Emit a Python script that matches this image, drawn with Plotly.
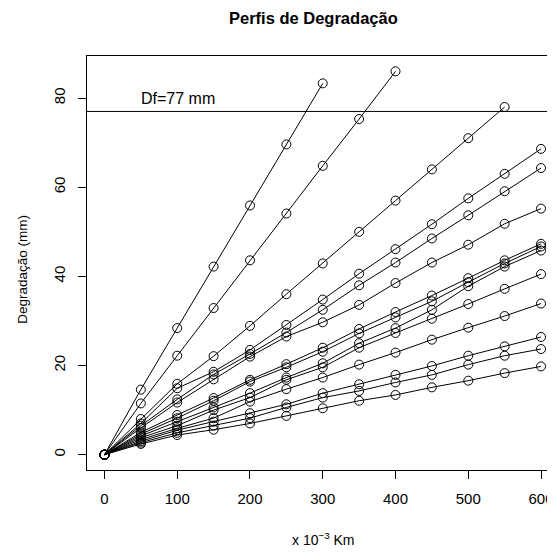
import plotly.graph_objects as go

x_km = [0, 50, 100, 150, 200, 250, 300, 350, 400, 450, 500, 550, 600]

s1 = [0, 14.6, 28.4, 42.2, 55.9, 69.6, 83.3]
s2 = [0, 11.5, 22.2, 32.9, 43.6, 54.1, 64.8, 75.3, 86.0]
s3 = [0, 8.0, 15.9, 22.1, 28.9, 36.0, 42.9, 50.0, 57.0, 64.0, 71.0, 78.0]
sA = [0, 7.0, 14.9, 18.6, 23.5, 29.1, 34.8, 40.6, 46.1, 51.7, 57.5, 63.0, 68.6]
sB = [0, 6.5, 12.4, 18.0, 22.6, 27.4, 32.5, 38.0, 43.1, 48.5, 53.7, 59.1, 64.3]
sC = [0, 6.0, 11.7, 16.9, 22.0, 26.5, 29.7, 33.6, 38.5, 43.1, 47.1, 51.8, 55.2]
sD = [0, 5.0, 8.9, 12.7, 16.8, 20.3, 24.0, 28.2, 32.0, 35.7, 39.6, 43.6, 47.3]
sE = [0, 4.6, 8.2, 12.1, 16.4, 19.6, 23.1, 27.2, 30.8, 34.4, 38.7, 42.9, 46.7]
sF = [0, 4.2, 7.4, 10.6, 13.8, 17.3, 20.5, 25.0, 28.4, 32.5, 37.8, 42.2, 45.8]
sG = [0, 3.8, 6.5, 10.0, 12.8, 16.8, 19.6, 24.0, 27.3, 30.5, 33.8, 37.2, 40.5]
sH = [0, 3.4, 5.9, 8.2, 11.9, 14.7, 17.3, 20.2, 22.9, 25.8, 28.5, 31.1, 33.9]
sI = [0, 3.0, 5.5, 7.4, 9.3, 11.3, 13.8, 15.8, 17.9, 19.9, 22.2, 24.3, 26.4]
sJ = [0, 2.7, 4.9, 6.5, 8.2, 10.6, 12.8, 14.3, 16.2, 17.9, 20.2, 22.2, 23.7]
sK = [0, 2.4, 4.4, 5.6, 7.0, 8.7, 10.4, 12.1, 13.4, 15.1, 16.6, 18.3, 19.8]

series = [s1, s2, s3, sA, sB, sC, sD, sE, sF, sG, sH, sI, sJ, sK]

df_value = 77
df_label = "Df=77 mm"
x_ticks = [0, 100, 200, 300, 400, 500, 600]
y_ticks = [0, 20, 40, 60, 80]

FONT = "Liberation Sans, Arial, sans-serif"

# page body adds an 8px offset; figure sized/margined to compensate
PL, PT, PW, PH = 87, 56, 468, 414   # plot area in page pixels


def px(xp):
    return (xp - PL) / PW


def py(yp):
    return (PT + PH - yp) / PH


fig = go.Figure()
for s in series:
    fig.add_trace(go.Scatter(
        x=x_km[:len(s)], y=s, mode="lines+markers",
        line=dict(color="black", width=1),
        marker=dict(symbol="circle-open", size=9, color="black", line=dict(width=1)),
        showlegend=False, cliponaxis=False,
    ))

fig.add_shape(type="line", xref="paper", x0=0, x1=1, yref="y", y0=df_value, y1=df_value,
              line=dict(color="black", width=1))
fig.add_annotation(x=101, y=80, xref="x", yref="y", text=df_label, showarrow=False,
                   xanchor="center", yanchor="middle",
                   font=dict(size=16, color="black", family=FONT))

fig.add_annotation(xref="paper", yref="paper", x=px(313), y=py(18),
                   xanchor="center", yanchor="middle",
                   text="<b>Perfis de Degradação</b>", showarrow=False,
                   font=dict(size=16.5, color="black", family=FONT))

fig.add_annotation(xref="paper", yref="paper", x=px(323.5), y=py(539),
                   xanchor="center", yanchor="middle",
                   text="x 10<sup>−3</sup> Km", showarrow=False,
                   font=dict(size=14, color="black", family=FONT))
fig.add_annotation(xref="paper", yref="paper", x=px(21.7), y=py(269),
                   xanchor="center", yanchor="middle",
                   text="Degradação (mm)", textangle=-90, showarrow=False,
                   font=dict(size=13.5, color="black", family=FONT))

fig.update_layout(
    width=547, height=544,
    margin=dict(l=PL - 8, r=0, t=PT - 8, b=544 - (PT + PH - 8), autoexpand=False),
    plot_bgcolor="white", paper_bgcolor="white",
    font=dict(family=FONT, size=15, color="black"),
    xaxis=dict(range=[-24, 619.2], tickvals=x_ticks, ticks="outside", ticklen=8,
               tickcolor="black", showgrid=False, zeroline=False,
               showline=True, linecolor="black", linewidth=1, mirror=True,
               ticklabelstandoff=7, tickfont=dict(size=15)),
    yaxis=dict(range=[-3.44, 89.44], tickvals=y_ticks, ticks="outside", ticklen=8,
               tickcolor="black", showgrid=False, zeroline=False, tickangle=-90,
               showline=True, linecolor="black", linewidth=1, mirror=False,
               ticklabelstandoff=7, tickfont=dict(size=15)),
)

fig.write_html("out.html")
